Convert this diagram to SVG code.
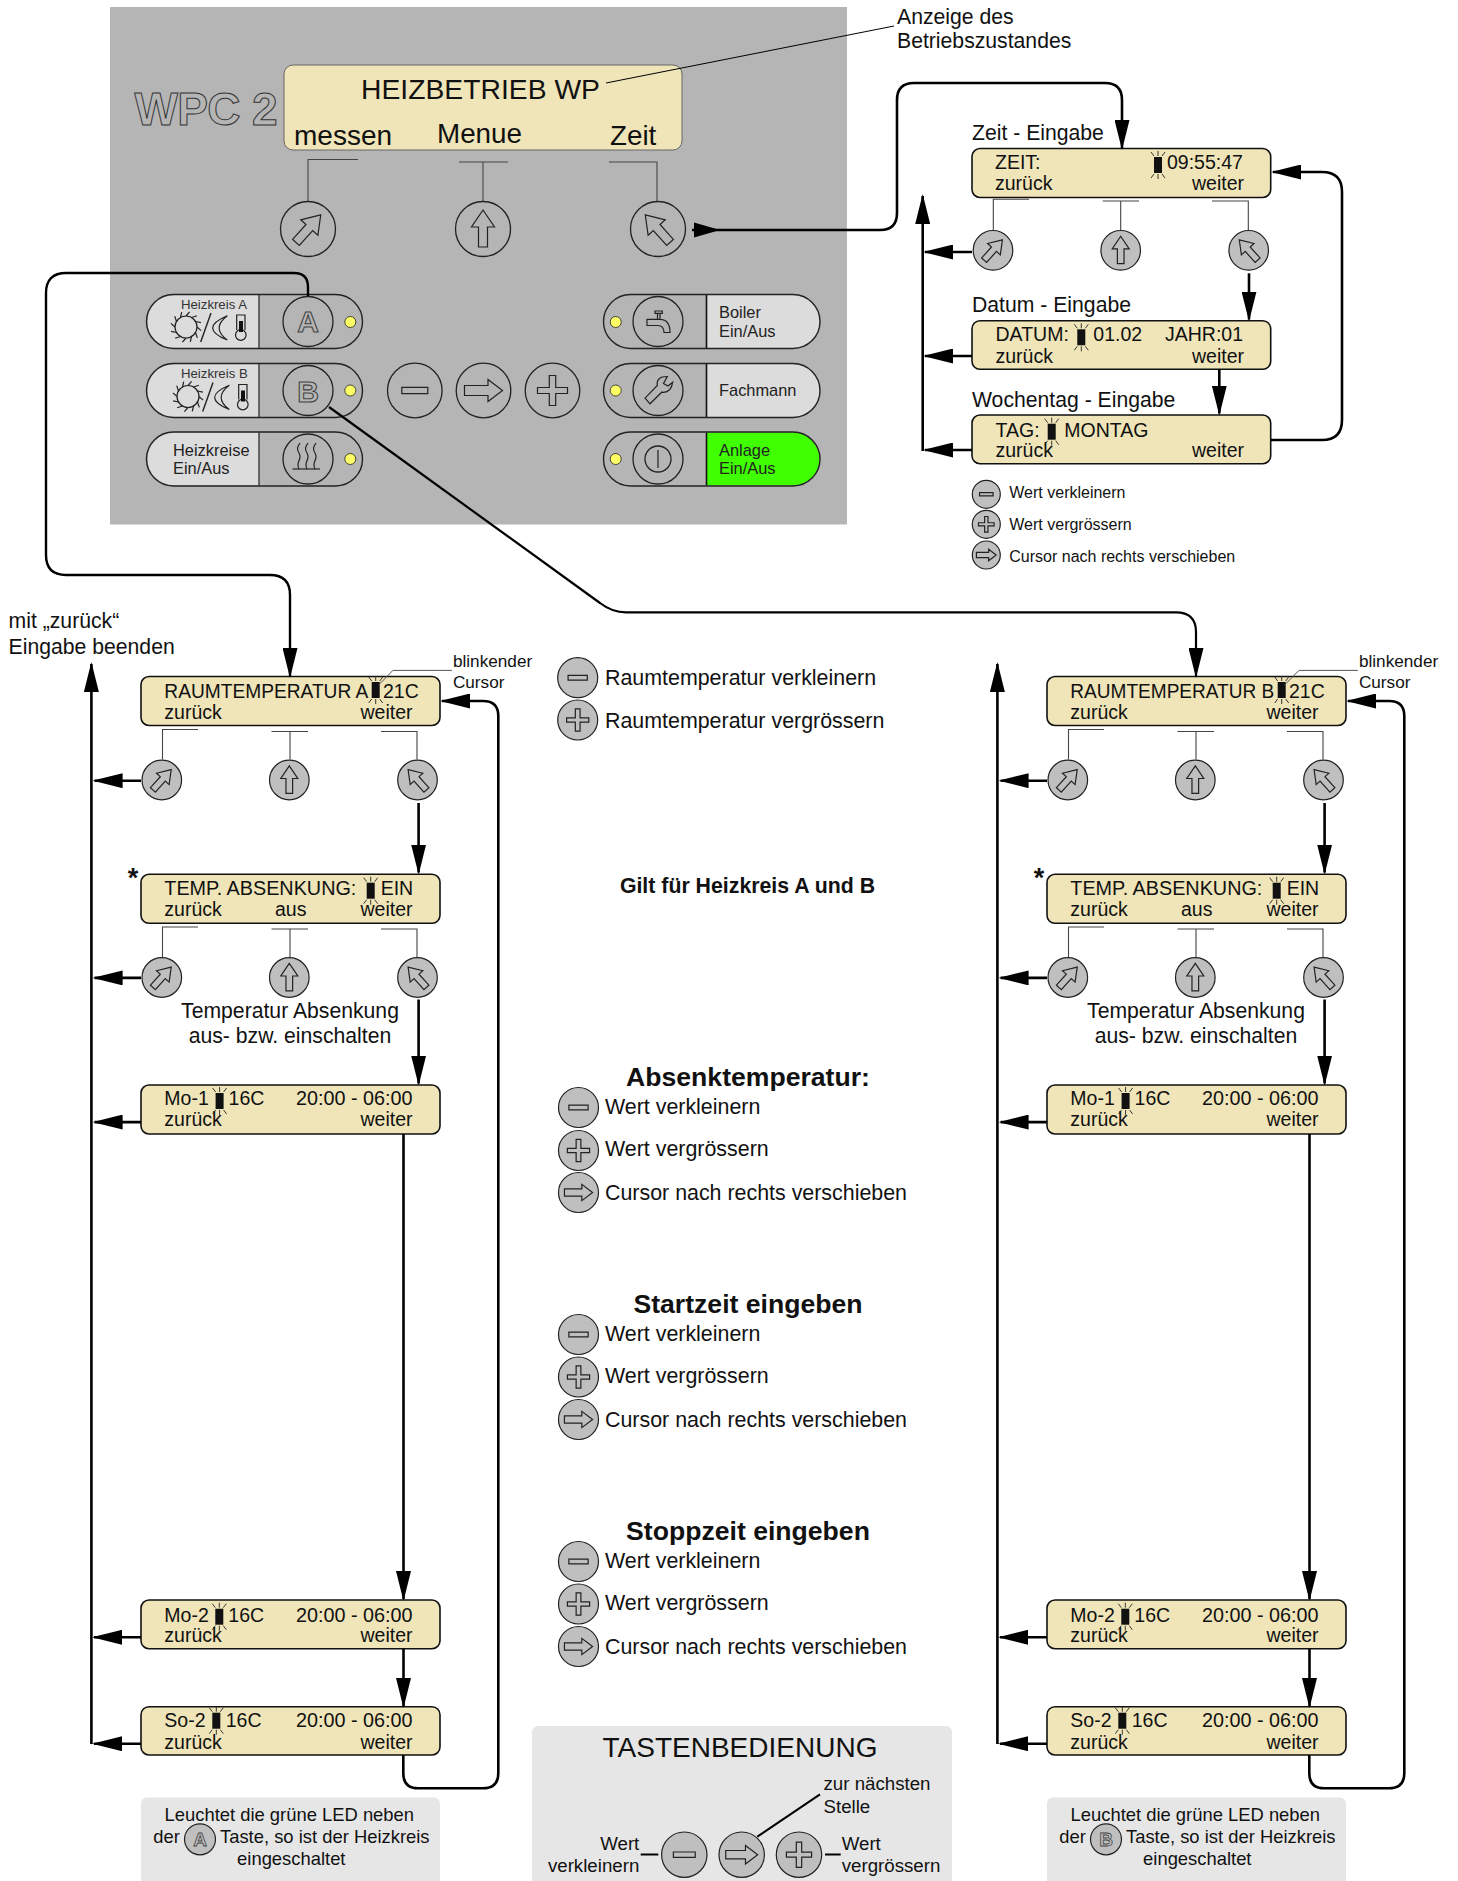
<svg xmlns="http://www.w3.org/2000/svg" width="1458" height="1881" viewBox="0 0 1458 1881">
<style>
text{font-family:"Liberation Sans",Arial,sans-serif;fill:#111}
.ic{fill:none;stroke:#222;stroke-width:1.2;vector-effect:non-scaling-stroke}
.icf{fill:#111;stroke:none}
.lcd{fill:#efe5b9;stroke:#111;stroke-width:1.6}
.pill{fill:none;stroke:#222;stroke-width:1.4}
.lab{fill:#dcdcdc;stroke:none}
.btn{fill:none;stroke:#222;stroke-width:1.3}
.key{fill:#bfbfbf;stroke:#222;stroke-width:1.2}
.led{fill:#ffff66;stroke:#222;stroke-width:.8}
.br{fill:none;stroke:#444;stroke-width:1.1}
.c{fill:none;stroke:#000;stroke-width:2.6}
.ca{fill:none;stroke:#000;stroke-width:2.6;marker-end:url(#ah)}
.thin{fill:none;stroke:#000;stroke-width:1}
.l{font-size:19.5px}
.s16{font-size:16px}
.s21{font-size:21.2px}
.s22{font-size:21.4px}
.s17{font-size:17.2px}
.s18{font-size:18.4px}
.s19{font-size:18.7px}
.p16{font-size:16.4px;fill:#222}
.m{text-anchor:middle}
.e{text-anchor:end}
.h{font-weight:bold;font-size:26.6px;text-anchor:middle}
.outl{font-weight:bold;fill:#b5b5b5;stroke:#444;stroke-width:1.1;text-anchor:middle}
.box{fill:#e6e6e6}
</style>
<defs>
<marker id="ah" markerUnits="userSpaceOnUse" markerWidth="30" markerHeight="15" viewBox="0 0 30 15" refX="28" refY="7.5" orient="auto"><path d="M0,0L30,7.5L0,15z" fill="#000"/></marker>
<rect id="ic-minus" class="ic" x="-13" y="-3.2" width="26" height="6.4"/>
<polygon id="ic-plus" class="ic" points="-3.2,-15 3.2,-15 3.2,-3 15,-3 15,3 3.2,3 3.2,15 -3.2,15 -3.2,3 -15,3 -15,-3 -3.2,-3"/>
<polygon id="ic-right" class="ic" points="-19,-5 4.5,-5 4.5,-11 19,0 4.5,11 4.5,5 -19,5"/>
<polygon id="ic-up" class="ic" points="0,-19 11.5,-2 4.5,-2 4.5,18 -4.5,18 -4.5,-2 -11.5,-2"/>
<polygon id="ic-ne" class="ic" points="0,-19 11.5,-2 4.5,-2 4.5,18 -4.5,18 -4.5,-2 -11.5,-2" transform="rotate(42)"/>
<polygon id="ic-nw" class="ic" points="0,-19 11.5,-2 4.5,-2 4.5,18 -4.5,18 -4.5,-2 -11.5,-2" transform="rotate(-42)"/>
<g id="cur"><rect class="icf" x="-4" y="-8" width="8" height="16"/><path d="M-7,-13L-4,-9M0,-14V-9M7,-13L4,-9M-7,13L-4,9M0,14V9M7,13L4,9" fill="none" stroke="#222" stroke-width=".9"/></g>
<g id="sunmoon" fill="none" stroke="#222" stroke-width="1.2">
<circle cx="0" cy="0" r="11"/>
<path d="M11,0L15.100,3.6M9.5,5.5L11.300,10.9M5.5,9.5L4.300,14.900M0,11L-3.6,15.100M-5.5,9.5L-10.900,11.300M-9.5,5.5L-14.900,4.300M-11,0L-15.100,-3.6M-9.5,-5.5L-11.300,-10.900M-5.5,-9.5L-4.300,-14.900M0,-11L3.6,-15.100M5.5,-9.5L10.900,-11.300M9.5,-5.5L14.900,-4.300"/>
<path d="M14.7,15L25,-14" stroke-width="1.4"/>
<path d="M41.3,-11.3Q12,1 41.3,13Q25,1 41.3,-11.3Z"/>
<path d="M50.7,3V-12H59V3"/><circle cx="54.8" cy="8" r="5.3"/>
<rect x="53" y="-6" width="4" height="11" fill="#111" stroke="none"/>
</g>
<g id="lbrk"><path class="br" d="M21.5,53V23H57M130.5,25H167M149,25V53M240,25H276V53"/></g>
</defs>
<rect width="1458" height="1881" fill="#fff"/>

<g id="panel">
<rect x="110" y="7" width="737" height="517.500" fill="#b5b5b5"/>
<text x="206" y="125" class="outl" font-size="46" style="stroke:#333;stroke-width:1" textLength="143" lengthAdjust="spacing">WPC 2</text>
</g>
<g id="display">
<rect x="284" y="65" width="398" height="85" rx="9" fill="#efe5b9" stroke="#666" stroke-width="1"/>
<text x="361" y="99" font-size="28.300">HEIZBETRIEB WP</text>
<text x="294" y="145" font-size="28">messen</text>
<text x="437" y="143" font-size="27.800">Menue</text>
<text x="610" y="145" font-size="27.800">Zeit</text>
</g>
<g id="softkeys">
<path class="br" d="M308,202V159.500H358M459,162H508M483,162V202M609,162H657V202"/>
<circle class="btn" cx="308" cy="229" r="27.500"/><use href="#ic-ne" transform="translate(308,229)"/>
<circle class="btn" cx="483" cy="229" r="27.500"/><use href="#ic-up" transform="translate(483,229)"/>
<circle class="btn" cx="658" cy="229" r="27.500"/><use href="#ic-nw" transform="translate(658,229)"/>
</g>
<g id="btn-a">
<path class="lab" d="M259,295H174a26.500,26.500 0 0 0 0,53H259z"/>
<path d="M259,295V348" stroke="#222" stroke-width="1.2"/>
<rect class="pill" x="146.500" y="294.500" width="216" height="54" rx="27"/>
<text x="181" y="309" font-size="13.200" style="fill:#333">Heizkreis A</text>
<use href="#sunmoon" transform="translate(186,327)"/>
<circle class="btn" cx="308" cy="321.500" r="25"/>
<text x="308" y="332" class="outl" font-size="30">A</text>
<circle class="led" cx="350.300" cy="322" r="5.500"/>
</g>
<g id="btn-b">
<path class="lab" d="M259,364H174a26.500,26.500 0 0 0 0,53H259z"/>
<path d="M259,364V417" stroke="#222" stroke-width="1.2"/>
<rect class="pill" x="146.500" y="363.500" width="216" height="54" rx="27"/>
<text x="181" y="378" font-size="13.200" style="fill:#333">Heizkreis B</text>
<use href="#sunmoon" transform="translate(188,396.500)"/>
<circle class="btn" cx="308" cy="390.500" r="25"/>
<text x="308" y="402" class="outl" font-size="30">B</text>
<circle class="led" cx="350.300" cy="390.500" r="5.500"/>
</g>
<g id="btn-heizkreise">
<path class="lab" d="M259,432.500H174a26.500,26.500 0 0 0 0,53H259z"/>
<path d="M259,432.500V485.500" stroke="#222" stroke-width="1.2"/>
<rect class="pill" x="146.500" y="432" width="216" height="54" rx="27"/>
<text x="173" y="456" class="p16">Heizkreise</text>
<text x="173" y="474" class="p16">Ein/Aus</text>
<circle class="btn" cx="308" cy="459" r="25"/>
<g fill="none" stroke="#222" stroke-width="1.2"><path d="M292.500,469H320"/><path d="M299,469c-4,-7 4,-10 0,-16c-3,-4 -1,-7 1,-10M307,469c-4,-7 4,-10 0,-16c-3,-4 -1,-7 1,-10M315,469c-4,-7 4,-10 0,-16c-3,-4 -1,-7 1,-10"/></g>
<circle class="led" cx="350.300" cy="459" r="5.500"/>
</g>
<g id="btn-minus"><circle class="btn" cx="414.800" cy="390.500" r="27.300"/><use href="#ic-minus" transform="translate(414.800,390.500)"/></g>
<g id="btn-right"><circle class="btn" cx="483.500" cy="390.500" r="27.300"/><use href="#ic-right" transform="translate(483.500,390.500)"/></g>
<g id="btn-plus"><circle class="btn" cx="552.500" cy="390.500" r="27.300"/><use href="#ic-plus" transform="translate(552.500,390.500)"/></g>
<g id="btn-boiler">
<path class="lab" d="M706.500,295H793a26.500,26.500 0 0 1 0,53H706.500z"/>
<path d="M706.500,295V348" stroke="#111" stroke-width="1.6"/>
<rect class="pill" x="603.500" y="294.500" width="216.500" height="54" rx="27"/>
<text x="719" y="317.700" class="p16">Boiler</text>
<text x="719" y="336.700" class="p16">Ein/Aus</text>
<circle class="btn" cx="658" cy="321.500" r="25"/>
<path transform="translate(658,321.500)" fill="none" stroke="#222" stroke-width="1.2" d="M-3,-10.500H4.300V-8.200H-3zM-.500,-8.200V-2.200M2,-8.200V-2.200M-11,-2.200H2Q12,-2 12,11H6Q6,4 0,4H-11Z"/>
<circle class="led" cx="615.700" cy="322" r="5.500"/>
</g>
<g id="btn-fachmann">
<path class="lab" d="M706.500,364H793a26.500,26.500 0 0 1 0,53H706.500z"/>
<path d="M706.500,364V417" stroke="#111" stroke-width="1.6"/>
<rect class="pill" x="603.500" y="363.500" width="216.500" height="54" rx="27"/>
<text x="719" y="395.700" class="p16">Fachmann</text>
<circle class="btn" cx="658" cy="390.500" r="25"/>
<path transform="translate(658,390.500)" fill="none" stroke="#222" stroke-width="1.2" d="M-13,7.700L-8,13.300L3.700,1.700Q13,3 14.700,-8.300L10,-4.500L5.500,-7L9.300,-14Q-2,-14 -.7,-5Z"/>
<circle class="led" cx="615.700" cy="390.500" r="5.500"/>
</g>
<g id="btn-anlage">
<path d="M706.500,432.500H793a26.500,26.500 0 0 1 0,53H706.500z" fill="#3fff00"/>
<path d="M706.500,432.500V485.500" stroke="#111" stroke-width="1.6"/>
<rect class="pill" x="603.500" y="432" width="216.500" height="54" rx="27"/>
<text x="719" y="456" class="p16">Anlage</text>
<text x="719" y="474" class="p16">Ein/Aus</text>
<circle class="btn" cx="658" cy="459" r="25"/>
<circle class="btn" cx="658" cy="459" r="13"/><path d="M658,450V468" stroke="#222" stroke-width="1.2"/>
<circle class="led" cx="615.700" cy="459" r="5.500"/>
</g>
<g id="note-status">
<text x="897" y="24" class="s21">Anzeige des</text>
<text x="897" y="48" class="s21">Betriebszustandes</text>
</g>

<g id="zeit-eingabe">
<text x="972" y="140" class="s21">Zeit - Eingabe</text>
<rect class="lcd" x="972" y="148.500" width="298.700" height="49" rx="8"/>
<text x="995" y="169" class="l">ZEIT:</text><use href="#cur" x="1158" y="165"/><text x="1167" y="169" class="l">09:55:47</text>
<text x="995" y="190" class="l">zurück</text><text x="1244" y="190" class="l e">weiter</text>
</g>
<g id="zeit-keys">
<path class="br" d="M993.300,231V199.300H1029M1102.700,201H1139M1120.700,201V231M1212,201H1248.300V231"/>
<circle class="key" cx="993" cy="250.300" r="19.800"/><use href="#ic-ne" transform="translate(993,250.300) scale(.74)"/>
<circle class="key" cx="1120.700" cy="250.300" r="19.800"/><use href="#ic-up" transform="translate(1120.700,250.300) scale(.74)"/>
<circle class="key" cx="1248.700" cy="250.300" r="19.800"/><use href="#ic-nw" transform="translate(1248.700,250.300) scale(.74)"/>
</g>
<g id="datum-eingabe">
<text x="972" y="311.700" class="s21">Datum - Eingabe</text>
<rect class="lcd" x="972" y="320.700" width="298.700" height="48.600" rx="8"/>
<text x="995.500" y="341" class="l">DATUM:</text><use href="#cur" x="1081.300" y="337.300"/><text x="1093.300" y="341" class="l">01.02</text><text x="1165" y="341" class="l">JAHR:01</text>
<text x="995.500" y="363" class="l">zurück</text><text x="1244" y="363" class="l e">weiter</text>
</g>
<g id="wochentag-eingabe">
<text x="972" y="406.700" class="s21">Wochentag - Eingabe</text>
<rect class="lcd" x="972" y="415" width="298.700" height="48.700" rx="8"/>
<text x="995.500" y="436.500" class="l">TAG:</text><use href="#cur" x="1051.700" y="431.700"/><text x="1064.300" y="436.500" class="l">MONTAG</text>
<text x="995.500" y="457" class="l">zurück</text><text x="1244" y="457" class="l e">weiter</text>
</g>
<g id="legend-zeit">
<circle class="key" cx="986.300" cy="494.300" r="14"/><use href="#ic-minus" transform="translate(986.300,494.300) scale(.52)"/>
<circle class="key" cx="986.300" cy="524.300" r="14"/><use href="#ic-plus" transform="translate(986.300,524.300) scale(.52)"/>
<circle class="key" cx="986.300" cy="555" r="14"/><use href="#ic-right" transform="translate(986.300,555) scale(.52)"/>
<text x="1009.300" y="498.300" class="s16">Wert verkleinern</text>
<text x="1009.300" y="530" class="s16">Wert vergrössern</text>
<text x="1009.300" y="561.700" class="s16">Cursor nach rechts verschieben</text>
</g>

<g id="note-end"><text x="8.600" y="628" class="s21">mit „zurück“</text><text x="8.600" y="653.600" class="s21">Eingabe beenden</text></g>

<g id="col-a">
<g id="a-raumtemp"><rect class="lcd" x="141" y="676.500" width="299" height="49" rx="8"/>
<text x="164.300" y="697.500" class="l" textLength="204" lengthAdjust="spacingAndGlyphs">RAUMTEMPERATUR A</text><use href="#cur" x="375.700" y="690"/><text x="383" y="697.500" class="l">21C</text>
<text x="164.300" y="719" class="l">zurück</text><text x="412.500" y="719" class="l e">weiter</text></g>
<g id="a-keys1"><use href="#lbrk" x="141" y="706.500"/>
<circle class="key" cx="161.800" cy="780" r="19.800"/><use href="#ic-ne" transform="translate(161.800,780) scale(.74)"/>
<circle class="key" cx="289.300" cy="780" r="19.800"/><use href="#ic-up" transform="translate(289.300,780) scale(.74)"/>
<circle class="key" cx="417.500" cy="780" r="19.800"/><use href="#ic-nw" transform="translate(417.500,780) scale(.74)"/></g>
<g id="a-absenkung"><text x="133" y="887" font-size="27" font-weight="bold" class="m">*</text>
<rect class="lcd" x="141" y="874.300" width="299" height="49" rx="8"/>
<text x="164.300" y="895.400" class="l" textLength="192" lengthAdjust="spacingAndGlyphs">TEMP. ABSENKUNG:</text><use href="#cur" x="370.700" y="890.700"/><text x="380.700" y="895.400" class="l">EIN</text>
<text x="164.300" y="915.700" class="l">zurück</text><text x="290.700" y="915.700" class="l m">aus</text><text x="412.500" y="915.700" class="l e">weiter</text></g>
<g id="a-keys2"><use href="#lbrk" x="141" y="904"/>
<circle class="key" cx="161.800" cy="977.500" r="19.800"/><use href="#ic-ne" transform="translate(161.800,977.500) scale(.74)"/>
<circle class="key" cx="289.300" cy="977.500" r="19.800"/><use href="#ic-up" transform="translate(289.300,977.500) scale(.74)"/>
<circle class="key" cx="417.500" cy="977.500" r="19.800"/><use href="#ic-nw" transform="translate(417.500,977.500) scale(.74)"/>
<text x="290" y="1018" class="s21 m">Temperatur Absenkung</text><text x="290" y="1043" class="s21 m">aus- bzw. einschalten</text></g>
<g id="a-mo1"><rect class="lcd" x="141" y="1085" width="299" height="49" rx="8"/>
<text x="164.300" y="1105.400" class="l">Mo-1</text><use href="#cur" x="219.600" y="1101"/><text x="228.600" y="1105.400" class="l">16C</text><text x="412.500" y="1105.400" class="l e" textLength="116.500" lengthAdjust="spacingAndGlyphs">20:00 - 06:00</text>
<text x="164.300" y="1126.400" class="l">zurück</text><text x="412.500" y="1126.400" class="l e">weiter</text></g>
<g id="a-mo2"><rect class="lcd" x="141" y="1600" width="299" height="48.700" rx="8"/>
<text x="164.300" y="1622" class="l">Mo-2</text><use href="#cur" x="219.300" y="1616.700"/><text x="228.300" y="1622" class="l">16C</text><text x="412.500" y="1622" class="l e" textLength="116.500" lengthAdjust="spacingAndGlyphs">20:00 - 06:00</text>
<text x="164.300" y="1641.500" class="l">zurück</text><text x="412.500" y="1641.500" class="l e">weiter</text></g>
<g id="a-so2"><rect class="lcd" x="141" y="1706.700" width="299" height="48.300" rx="8"/>
<text x="164.300" y="1727" class="l">So-2</text><use href="#cur" x="216.300" y="1720.700"/><text x="225.700" y="1727" class="l">16C</text><text x="412.500" y="1727" class="l e" textLength="116.500" lengthAdjust="spacingAndGlyphs">20:00 - 06:00</text>
<text x="164.300" y="1749" class="l">zurück</text><text x="412.500" y="1749" class="l e">weiter</text></g>
<g id="a-note"><path class="box" d="M147,1797.500H434a6,6 0 0 1 6,6V1881H141V1803.500a6,6 0 0 1 6,-6z"/>
<text x="289.300" y="1820.700" class="s18 m">Leuchtet die grüne LED neben</text>
<text x="153.300" y="1842.700" class="s18">der</text>
<circle class="key" cx="200" cy="1839.300" r="15.500"/><text x="200" y="1846" class="outl" font-size="19" style="fill:#bfbfbf;stroke-width:.8">A</text>
<text x="220" y="1842.700" class="s18">Taste, so ist der Heizkreis</text>
<text x="291.300" y="1865" class="s18 m">eingeschaltet</text></g>
<g id="a-cursor-note"><path class="thin" style="stroke:#555" d="M451.800,670.400H392.900L378.600,685"/>
<text x="452.900" y="666.800" class="s17">blinkender</text><text x="452.900" y="687.500" class="s17">Cursor</text></g>
</g>

<g id="col-b">
<g id="b-raumtemp"><rect class="lcd" x="1047" y="676.500" width="299" height="49" rx="8"/>
<text x="1070.300" y="697.500" class="l" textLength="204" lengthAdjust="spacingAndGlyphs">RAUMTEMPERATUR B</text><use href="#cur" x="1281.700" y="690"/><text x="1289" y="697.500" class="l">21C</text>
<text x="1070.300" y="719" class="l">zurück</text><text x="1318.500" y="719" class="l e">weiter</text></g>
<g id="b-keys1"><use href="#lbrk" x="1047" y="706.500"/>
<circle class="key" cx="1067.800" cy="780" r="19.800"/><use href="#ic-ne" transform="translate(1067.800,780) scale(.74)"/>
<circle class="key" cx="1195.300" cy="780" r="19.800"/><use href="#ic-up" transform="translate(1195.300,780) scale(.74)"/>
<circle class="key" cx="1323.500" cy="780" r="19.800"/><use href="#ic-nw" transform="translate(1323.500,780) scale(.74)"/></g>
<g id="b-absenkung"><text x="1039" y="887" font-size="27" font-weight="bold" class="m">*</text>
<rect class="lcd" x="1047" y="874.300" width="299" height="49" rx="8"/>
<text x="1070.300" y="895.400" class="l" textLength="192" lengthAdjust="spacingAndGlyphs">TEMP. ABSENKUNG:</text><use href="#cur" x="1276.700" y="890.700"/><text x="1286.700" y="895.400" class="l">EIN</text>
<text x="1070.300" y="915.700" class="l">zurück</text><text x="1196.700" y="915.700" class="l m">aus</text><text x="1318.500" y="915.700" class="l e">weiter</text></g>
<g id="b-keys2"><use href="#lbrk" x="1047" y="904"/>
<circle class="key" cx="1067.800" cy="977.500" r="19.800"/><use href="#ic-ne" transform="translate(1067.800,977.500) scale(.74)"/>
<circle class="key" cx="1195.300" cy="977.500" r="19.800"/><use href="#ic-up" transform="translate(1195.300,977.500) scale(.74)"/>
<circle class="key" cx="1323.500" cy="977.500" r="19.800"/><use href="#ic-nw" transform="translate(1323.500,977.500) scale(.74)"/>
<text x="1196" y="1018" class="s21 m">Temperatur Absenkung</text><text x="1196" y="1043" class="s21 m">aus- bzw. einschalten</text></g>
<g id="b-mo1"><rect class="lcd" x="1047" y="1085" width="299" height="49" rx="8"/>
<text x="1070.300" y="1105.400" class="l">Mo-1</text><use href="#cur" x="1125.600" y="1101"/><text x="1134.600" y="1105.400" class="l">16C</text><text x="1318.500" y="1105.400" class="l e" textLength="116.500" lengthAdjust="spacingAndGlyphs">20:00 - 06:00</text>
<text x="1070.300" y="1126.400" class="l">zurück</text><text x="1318.500" y="1126.400" class="l e">weiter</text></g>
<g id="b-mo2"><rect class="lcd" x="1047" y="1600" width="299" height="48.700" rx="8"/>
<text x="1070.300" y="1622" class="l">Mo-2</text><use href="#cur" x="1125.300" y="1616.700"/><text x="1134.300" y="1622" class="l">16C</text><text x="1318.500" y="1622" class="l e" textLength="116.500" lengthAdjust="spacingAndGlyphs">20:00 - 06:00</text>
<text x="1070.300" y="1641.500" class="l">zurück</text><text x="1318.500" y="1641.500" class="l e">weiter</text></g>
<g id="b-so2"><rect class="lcd" x="1047" y="1706.700" width="299" height="48.300" rx="8"/>
<text x="1070.300" y="1727" class="l">So-2</text><use href="#cur" x="1122.300" y="1720.700"/><text x="1131.700" y="1727" class="l">16C</text><text x="1318.500" y="1727" class="l e" textLength="116.500" lengthAdjust="spacingAndGlyphs">20:00 - 06:00</text>
<text x="1070.300" y="1749" class="l">zurück</text><text x="1318.500" y="1749" class="l e">weiter</text></g>
<g id="b-note"><path class="box" d="M1053,1797.500H1340a6,6 0 0 1 6,6V1881H1047V1803.500a6,6 0 0 1 6,-6z"/>
<text x="1195.300" y="1820.700" class="s18 m">Leuchtet die grüne LED neben</text>
<text x="1059.300" y="1842.700" class="s18">der</text>
<circle class="key" cx="1106" cy="1839.300" r="15.500"/><text x="1106" y="1846" class="outl" font-size="19" style="fill:#bfbfbf;stroke-width:.8">B</text>
<text x="1126" y="1842.700" class="s18">Taste, so ist der Heizkreis</text>
<text x="1197.300" y="1865" class="s18 m">eingeschaltet</text></g>
<g id="b-cursor-note"><path class="thin" style="stroke:#555" d="M1357.800,670.400H1298.900L1284.600,685"/>
<text x="1358.900" y="666.800" class="s17">blinkender</text><text x="1358.900" y="687.500" class="s17">Cursor</text></g>
</g>

<g id="center-notes">
<circle class="key" cx="577.700" cy="677.700" r="20"/><use href="#ic-minus" transform="translate(577.700,677.700) scale(.74)"/>
<circle class="key" cx="577.700" cy="720" r="20"/><use href="#ic-plus" transform="translate(577.700,720) scale(.74)"/>
<text x="605" y="685" class="s22">Raumtemperatur verkleinern</text>
<text x="605" y="727.700" class="s22">Raumtemperatur vergrössern</text>
<text x="747.500" y="893" font-size="21.300" font-weight="bold" class="m">Gilt für Heizkreis A und B</text>

<text x="748" y="1086" class="h">Absenktemperatur:</text>
<circle class="key" cx="578.500" cy="1107.500" r="20"/><use href="#ic-minus" transform="translate(578.500,1107.500) scale(.74)"/>
<circle class="key" cx="578.500" cy="1150.500" r="20"/><use href="#ic-plus" transform="translate(578.500,1150.500) scale(.74)"/>
<circle class="key" cx="578.500" cy="1192.500" r="20"/><use href="#ic-right" transform="translate(578.500,1192.500) scale(.74)"/>
<text x="605" y="1114" class="s22">Wert verkleinern</text><text x="605" y="1156" class="s22">Wert vergrössern</text><text x="605" y="1200" class="s22">Cursor nach rechts verschieben</text>

<text x="748" y="1313" class="h">Startzeit eingeben</text>
<circle class="key" cx="578.500" cy="1334.500" r="20"/><use href="#ic-minus" transform="translate(578.500,1334.500) scale(.74)"/>
<circle class="key" cx="578.500" cy="1377" r="20"/><use href="#ic-plus" transform="translate(578.500,1377) scale(.74)"/>
<circle class="key" cx="578.500" cy="1419.500" r="20"/><use href="#ic-right" transform="translate(578.500,1419.500) scale(.74)"/>
<text x="605" y="1341" class="s22">Wert verkleinern</text><text x="605" y="1383" class="s22">Wert vergrössern</text><text x="605" y="1427" class="s22">Cursor nach rechts verschieben</text>

<text x="748" y="1540" class="h">Stoppzeit eingeben</text>
<circle class="key" cx="578.500" cy="1561.500" r="20"/><use href="#ic-minus" transform="translate(578.500,1561.500) scale(.74)"/>
<circle class="key" cx="578.500" cy="1604" r="20"/><use href="#ic-plus" transform="translate(578.500,1604) scale(.74)"/>
<circle class="key" cx="578.500" cy="1646.500" r="20"/><use href="#ic-right" transform="translate(578.500,1646.500) scale(.74)"/>
<text x="605" y="1567.500" class="s22">Wert verkleinern</text><text x="605" y="1610" class="s22">Wert vergrössern</text><text x="605" y="1654" class="s22">Cursor nach rechts verschieben</text>
</g>

<g id="tastenbedienung">
<path class="box" d="M538,1726H946a6,6 0 0 1 6,6V1881H532V1732a6,6 0 0 1 6,-6z"/>
<text x="740" y="1756.700" font-size="28" class="m">TASTENBEDIENUNG</text>
<text x="823.500" y="1790" class="s19">zur nächsten</text><text x="823.500" y="1812.700" class="s19">Stelle</text>
<text x="639.300" y="1850" class="s19 e">Wert</text><text x="639.300" y="1871.700" class="s19 e">verkleinern</text>
<text x="841.700" y="1850" class="s19">Wert</text><text x="841.700" y="1871.700" class="s19">vergrössern</text>
<path d="M640.700,1854.500H658.300M825,1854.500H840.700M757.300,1836.700L820,1794.300" fill="none" stroke="#000" stroke-width="2"/>
<circle class="key" cx="684.300" cy="1854.700" r="22.700"/><use href="#ic-minus" transform="translate(684.300,1854.700) scale(.84)"/>
<circle class="key" cx="741.700" cy="1854.700" r="22.700"/><use href="#ic-right" transform="translate(741.700,1854.700) scale(.84)"/>
<circle class="key" cx="799" cy="1854.700" r="22.700"/><use href="#ic-plus" transform="translate(799,1854.700) scale(.84)"/>
</g>

<g id="connectors">
<path class="thin" d="M606,83L894,26"/>
<path d="M694,222.500L720,230L694,237.500z" fill="#000"/>
<path class="ca" d="M692,230H880Q897,230 897,213V100Q897,83 914,83H1105Q1122,83 1122,100V148"/>
<path class="ca" d="M972,252H925"/><path class="ca" d="M1249,273.300V319.500"/>
<path class="ca" d="M972,356H925"/><path class="ca" d="M1219.300,369.300V413.500"/>
<path class="ca" d="M972,450H925"/>
<path class="ca" d="M922.700,451V196"/>
<path class="ca" d="M1271,440H1322Q1342,440 1342,420V192Q1342,172 1322,172H1273"/>
<path class="c" style="stroke-width:2.4" d="M308,296V287Q308,273 294,273H66Q46,273 46,293V555Q46,575 66,575H270Q290,575 290,595V676" marker-end="url(#ah)"/>
<path class="c" style="stroke-width:2.2" d="M329,407L600,603Q612,612.300 626,612.300H1176Q1196,612.300 1196,632V676" marker-end="url(#ah)"/>
<g id="flow-a">
<path class="ca" d="M91.400,1744V664"/>
<path class="ca" d="M141,780.700H94.600"/>
<path class="ca" d="M418.600,803V872.500"/>
<path class="ca" d="M141,977.900H94.600"/>
<path class="ca" d="M418.600,999.500V1083.500"/>
<path class="ca" d="M141,1122.100H94.600"/>
<path class="ca" d="M403.500,1134V1599"/>
<path class="ca" d="M141,1637.300H94"/>
<path class="ca" d="M403.500,1649V1706"/>
<path class="ca" d="M141,1743.700H94"/>
<path class="ca" d="M403.300,1755V1773Q403.300,1788.300 418,1788.300H483Q498.300,1788.300 498.300,1773V716Q498.300,701 483,701H442"/>
</g>
<use href="#flow-a" x="906"/>
</g>
</svg>
